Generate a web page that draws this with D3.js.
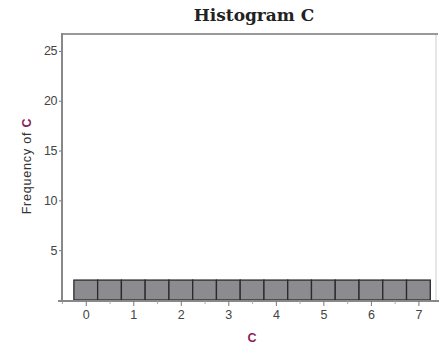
<!DOCTYPE html>
<html>
<head>
<meta charset="utf-8">
<script src="https://cdn.jsdelivr.net/npm/d3@7"></script>
<style>
  body { margin: 0; background: #fff; }
  text { font-family: "Liberation Sans", Arial, sans-serif; }
</style>
</head>
<body>
<svg id="svg" width="439" height="352"></svg>
<script>
// bins of width 0.5 centred on 0, 0.5, ... 7
var binCenters = [0, 0.5, 1, 1.5, 2, 2.5, 3, 3.5, 4, 4.5, 5, 5.5, 6, 6.5, 7];
var counts = [2, 2, 2, 2, 2, 2, 2, 2, 2, 2, 2, 2, 2, 2, 2];
var xTicks = [0, 1, 2, 3, 4, 5, 6, 7];
var xMinor = [-0.5, 0.5, 1.5, 2.5, 3.5, 4.5, 5.5, 6.5];
var yTicks = [5, 10, 15, 20, 25];
var binWidth = 0.5;

var plotL = 62, plotR = 436, plotT = 34, plotB = 300;
var sansFont = '"Liberation Sans", Arial, sans-serif';

var x = d3.scaleLinear().domain([-0.5, 7.37]).range([plotL, plotR]);
var y = d3.scaleLinear().domain([0, 26.7]).range([plotB, plotT]);

var s = d3.select('#svg');

// title
s.append('text')
  .attr('x', 254).attr('y', 21)
  .attr('text-anchor', 'middle')
  .style('font-family', '"DejaVu Serif", "Liberation Serif", serif')
  .style('font-weight', 'bold')
  .style('font-size', '17px')
  .attr('fill', '#222')
  .text('Histogram C');

// frame (right side faint, top thicker)
s.append('path')
  .attr('d', 'M' + plotL + ',' + plotT + 'H' + plotR + 'V' + plotB)
  .attr('fill', 'none')
  .attr('stroke', '#ccc')
  .attr('stroke-width', 1);
s.append('line')
  .attr('x1', plotL).attr('x2', plotR + 2)
  .attr('y1', plotT).attr('y2', plotT)
  .attr('stroke', '#999').attr('stroke-width', 2);

// bars
s.selectAll('rect.bar')
  .data(binCenters)
  .enter()
  .append('rect')
  .attr('class', 'bar')
  .attr('x', function (d) { return x(d - binWidth / 2); })
  .attr('width', function (d) { return x(d + binWidth / 2) - x(d - binWidth / 2); })
  .attr('y', function (d, i) { return y(counts[i]); })
  .attr('height', function (d, i) { return y(0) - y(counts[i]); })
  .attr('fill', '#8c8c90')
  .attr('stroke', '#2a2a2a')
  .attr('stroke-width', 1.3);

// x axis
s.append('line')
  .attr('x1', plotL - 4).attr('x2', 439)
  .attr('y1', plotB + 1).attr('y2', plotB + 1)
  .attr('stroke', '#888').attr('stroke-width', 2);

var gx = s.append('g').attr('transform', 'translate(0,' + (plotB + 1) + ')')
  .call(d3.axisBottom(x).tickValues(xTicks).tickSize(5).tickPadding(4).tickFormat(d3.format('d')));
gx.select('.domain').remove();
gx.selectAll('line').attr('stroke', '#777');
gx.selectAll('text').attr('fill', '#444').style('font-size', '12.5px').style('font-family', sansFont);

var gm = s.append('g').attr('transform', 'translate(0,' + (plotB + 1) + ')')
  .call(d3.axisBottom(x).tickValues(xMinor).tickSize(3).tickFormat(''));
gm.select('.domain').remove();
gm.selectAll('line').attr('stroke', '#aaa');

// y axis
var gy = s.append('g').attr('transform', 'translate(' + plotL + ',0)')
  .call(d3.axisLeft(y).tickValues(yTicks).tickSize(3).tickPadding(2));
gy.select('.domain').remove();
gy.selectAll('line').attr('stroke', '#777');
gy.selectAll('text').attr('fill', '#444').style('font-size', '12.5px').style('font-family', sansFont)
  .style('letter-spacing', '-0.5px');
s.append('line')
  .attr('x1', plotL).attr('x2', plotL)
  .attr('y1', plotT - 1).attr('y2', plotB + 2)
  .attr('stroke', '#888').attr('stroke-width', 2);

// axis titles
s.append('text')
  .attr('transform', 'translate(31,166) rotate(-90)')
  .attr('text-anchor', 'middle')
  .style('font-size', '12.5px')
  .style('letter-spacing', '0.8px')
  .call(function (t) {
    t.append('tspan').attr('fill', '#333').text('Frequency of ');
    t.append('tspan').attr('fill', '#8b1f5a').style('font-weight', 'bold').text('C');
  });

s.append('text')
  .attr('x', 252).attr('y', 342)
  .attr('text-anchor', 'middle')
  .attr('fill', '#8b1f5a')
  .style('font-weight', 'bold')
  .style('font-size', '12.5px')
  .text('C');
</script>
</body>
</html>
